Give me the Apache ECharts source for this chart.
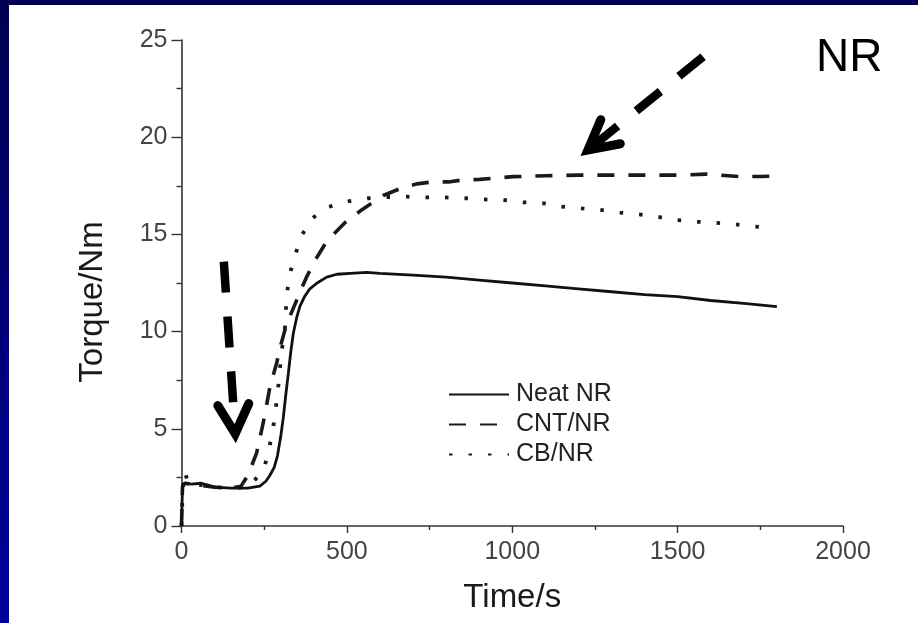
<!DOCTYPE html>
<html>
<head>
<meta charset="utf-8">
<script src="https://cdn.jsdelivr.net/npm/echarts@6/dist/echarts.min.js"></script>
<style>
  html, body { margin: 0; padding: 0; width: 918px; height: 623px; overflow: hidden; }
  body { background: linear-gradient(to bottom, #000050 0%, #000078 50%, #00009a 100%); position: relative; }
  #paper { position: absolute; left: 9px; top: 5px; width: 909px; height: 618px; background: #ffffff; }
  #chart { position: absolute; left: 0; top: 0; width: 918px; height: 623px; }
</style>
</head>
<body>
<div id="paper"></div>
<div id="chart"></div>
<script>
// ---- data ----
const seriesNames = ['Neat NR', 'CNT/NR', 'CB/NR'];
const xTickValues = [0, 500, 1000, 1500, 2000];
const yTickValues = [0, 5, 10, 15, 20, 25];

const neatTime   = [0, 3, 10, 30, 60, 80, 100, 150, 200, 237, 255, 267, 280, 290, 300, 308, 315, 323, 330, 338, 348, 358, 372, 388, 410, 439, 470, 510, 560, 600, 700, 800, 900, 1000, 1100, 1200, 1300, 1400, 1500, 1600, 1700, 1800];
const neatTorque = [0, 2.1, 2.2, 2.15, 2.2, 2.1, 2.0, 1.95, 1.95, 2.05, 2.3, 2.6, 3.0, 3.6, 4.6, 5.6, 6.7, 7.85, 8.9, 9.9, 10.7, 11.3, 11.8, 12.2, 12.5, 12.8, 12.95, 13.0, 13.05, 13.0, 12.9, 12.8, 12.65, 12.5, 12.35, 12.2, 12.05, 11.9, 11.8, 11.6, 11.45, 11.28];

const cntTime   = [0, 3, 10, 50, 100, 150, 180, 197, 212, 227, 247, 268, 288, 300, 313, 328, 343, 360, 378, 405, 434, 465, 494, 540, 575, 610, 660, 711, 760, 807, 850, 902, 1003, 1104, 1200, 1295, 1400, 1500, 1588, 1688, 1750, 1800];
const cntTorque = [0, 2.0, 2.2, 2.1, 2.0, 1.95, 2.05, 2.5, 3.1, 3.75, 5.3, 7.2, 8.4, 9.3, 10.1, 10.8, 11.4, 12.1, 12.8, 13.7, 14.5, 15.1, 15.6, 16.2, 16.6, 17.0, 17.35, 17.6, 17.7, 17.7, 17.8, 17.83, 17.97, 18.02, 18.05, 18.05, 18.05, 18.05, 18.1, 17.97, 17.98, 18.0];

const cbTime   = [0, 5, 10, 20, 60, 100, 150, 200, 217, 235, 252, 265, 276, 283, 290, 295, 300, 306, 313, 316, 320, 328, 343, 362, 393, 442, 504, 565, 620, 681, 741, 797, 857, 912, 973, 1033, 1094, 1149, 1210, 1265, 1326, 1384, 1441, 1500, 1557, 1616, 1673, 1734, 1791];
const cbTorque = [0, 2.5, 2.8, 2.2, 2.1, 2.0, 1.95, 2.0, 2.3, 2.6, 3.1, 4.0, 4.9, 5.8, 6.7, 7.6, 8.5, 9.4, 10.25, 11.2, 12.1, 13.0, 13.9, 14.9, 15.8, 16.4, 16.7, 16.86, 16.92, 16.94, 16.9, 16.9, 16.86, 16.8, 16.77, 16.65, 16.6, 16.43, 16.34, 16.26, 16.12, 16.03, 15.9, 15.74, 15.65, 15.6, 15.52, 15.4, 15.35];

// annotation arrows in data coordinates: start of shaft, outer tip of head
const arrowFrom = [[128, 13.6], [1577, 24.14]];
const arrowTo   = [[164, 4.34], [1210, 19.08]];
const arrowGap  = [36, 16];

const zip = (a, b) => a.map((v, i) => [v, b[i]]);
const FONT = '"Liberation Sans", Arial, Helvetica, sans-serif';

const chart = echarts.init(document.getElementById('chart'), null, { renderer: 'canvas' });

const axisLineColor = '#333333';

const option = {
  backgroundColor: 'transparent',
  animation: false,
  grid: { left: 181.5, right: 75, top: 40, bottom: 97, containLabel: false, outerBoundsMode: 'none' },
  legend: {
    orient: 'vertical',
    left: 448,
    top: 382,
    itemWidth: 60,
    itemHeight: 14,
    itemGap: 5,
    padding: 0,
    itemStyle: { color: 'rgba(0,0,0,0)', borderWidth: 0, opacity: 0 },
    textStyle: { fontSize: 25, color: '#222', fontFamily: FONT, padding: [0, 0, 0, 2] },
    data: seriesNames
  },
  xAxis: {
    type: 'value',
    min: xTickValues[0],
    max: xTickValues[xTickValues.length - 1],
    interval: xTickValues[1] - xTickValues[0],
    name: 'Time/s',
    nameLocation: 'middle',
    nameGap: 55,
    nameTextStyle: { fontSize: 33, color: '#1a1a1a', fontFamily: FONT },
    axisLine: { show: true, lineStyle: { color: axisLineColor, width: 1.6 } },
    axisTick: { show: true, inside: false, length: 7, lineStyle: { color: axisLineColor, width: 1.4 } },
    minorTick: { show: true, splitNumber: 2, length: 4, lineStyle: { color: axisLineColor, width: 1.4 } },
    splitLine: { show: false },
    axisLabel: { fontSize: 25, color: '#444', fontFamily: FONT, margin: 14, formatter: (v) => String(v) }
  },
  yAxis: {
    type: 'value',
    min: yTickValues[0],
    max: yTickValues[yTickValues.length - 1],
    interval: yTickValues[1] - yTickValues[0],
    name: 'Torque/Nm',
    nameLocation: 'middle',
    nameGap: 72,
    nameTextStyle: { fontSize: 33, color: '#1a1a1a', fontFamily: FONT, padding: [0, 38, 0, 0] },
    axisLine: { show: true, lineStyle: { color: axisLineColor, width: 1.6 } },
    axisTick: { show: true, inside: false, length: 10, lineStyle: { color: axisLineColor, width: 1.4 } },
    minorTick: { show: true, splitNumber: 2, length: 5, lineStyle: { color: axisLineColor, width: 1.4 } },
    splitLine: { show: false },
    axisLabel: { fontSize: 25, color: '#444', fontFamily: FONT, margin: 14, formatter: (v) => String(v) }
  },
  series: [
    {
      name: seriesNames[0], type: 'line', symbol: 'none', smooth: false,
      data: zip(neatTime, neatTorque),
      lineStyle: { color: '#111', width: 2.8, type: 'solid' },
      itemStyle: { color: '#111' }, z: 3
    },
    {
      name: seriesNames[1], type: 'line', symbol: 'none', smooth: false,
      data: zip(cntTime, cntTorque),
      lineStyle: { color: '#1a1a1a', width: 3.6, type: [17, 14] },
      itemStyle: { color: '#1a1a1a' }, z: 2
    },
    {
      name: seriesNames[2], type: 'line', symbol: 'none', smooth: false,
      data: zip(cbTime, cbTorque),
      lineStyle: { color: '#1a1a1a', width: 3.8, type: [3.5, 16], cap: 'butt' },
      itemStyle: { color: '#1a1a1a' }, z: 2
    }
  ]
};

chart.setOption(option);

// build the annotation arrows from data coordinates
function buildArrows() {
  const els = [];
  for (let i = 0; i < arrowFrom.length; i++) {
    const p0 = chart.convertToPixel({ gridIndex: 0 }, arrowFrom[i]);
    const p1 = chart.convertToPixel({ gridIndex: 0 }, arrowTo[i]);
    const dx = p1[0] - p0[0], dy = p1[1] - p0[1];
    const len = Math.hypot(dx, dy);
    const ux = dx / len, uy = dy / len;
    const sEnd = [p1[0] - ux * arrowGap[i], p1[1] - uy * arrowGap[i]];
    els.push({
      type: 'line', z: 100,
      shape: { x1: p0[0], y1: p0[1], x2: sEnd[0], y2: sEnd[1] },
      style: { stroke: '#000', lineWidth: 8.5, lineDash: [31, 24], lineCap: 'butt' }
    });
    const vtx = [p1[0] - ux * 8, p1[1] - uy * 8];
    const bx = -ux, by = -uy;
    const ang = 28 * Math.PI / 180, arm = 33;
    const rot = (a) => [bx * Math.cos(a) - by * Math.sin(a), bx * Math.sin(a) + by * Math.cos(a)];
    const r1 = rot(ang), r2 = rot(-ang);
    els.push({
      type: 'polyline', z: 100,
      shape: { points: [[vtx[0] + r1[0] * arm, vtx[1] + r1[1] * arm], vtx, [vtx[0] + r2[0] * arm, vtx[1] + r2[1] * arm]] },
      style: { stroke: '#000', lineWidth: 9, fill: null, lineJoin: 'miter', miterLimit: 10, lineCap: 'round' }
    });
  }
  els.push({
    type: 'text', z: 100, left: 816, top: 35,
    style: { text: 'NR', fontSize: 46, fontFamily: FONT, fill: '#000' }
  });
  chart.setOption({ graphic: els });
}
buildArrows();
</script>
</body>
</html>
